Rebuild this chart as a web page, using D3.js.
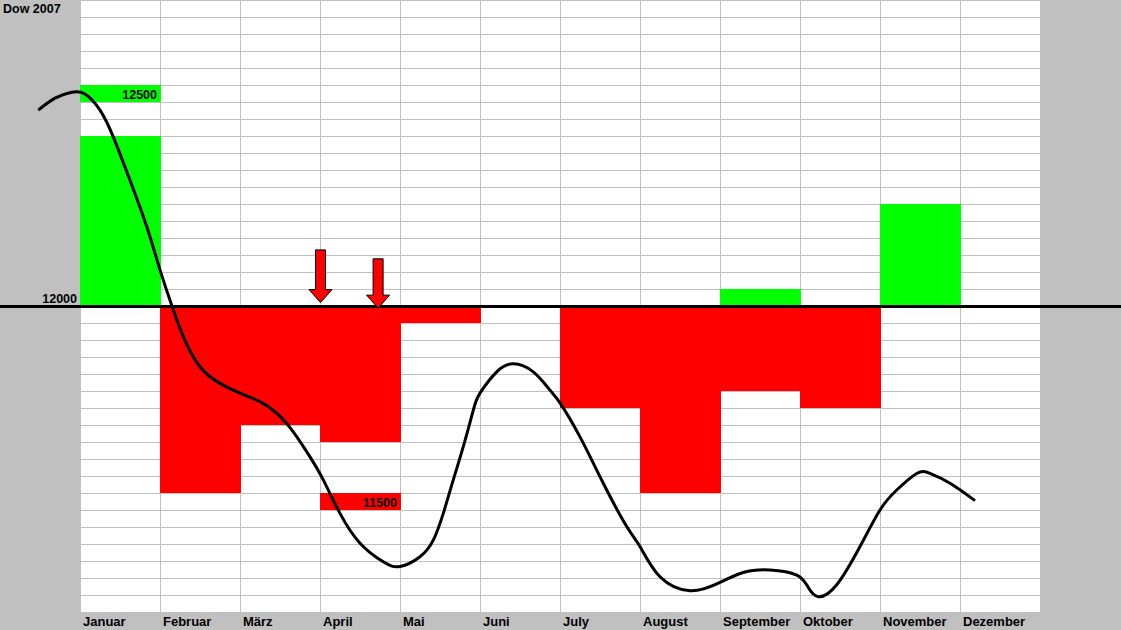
<!DOCTYPE html>
<html>
<head>
<meta charset="utf-8">
<script src="https://cdn.jsdelivr.net/npm/d3@7"></script>
<style>
  html, body { margin: 0; padding: 0; background: #c0c0c0; }
  svg { display: block; }
  text { font-family: Arial, "Liberation Sans", sans-serif; font-weight: bold; fill: #000; }
</style>
</head>
<body>
<script>
// ---------------- data ----------------
const title = "Dow 2007";
const months = ["Januar","Februar","März","April","Mai","Juni","July","August","September","Oktober","November","Dezember"];
const baseline = 12000;
// green part (above 12000) and red part (below 12000) of each month
const upValues   = [12400, null, null, null, null, null, null, null, 12040, null, 12240, null];
const downValues = [null, 11560, 11720, 11680, 11960, null, 11760, 11560, 11800, 11760, null, null];

// marker boxes with labels
const boxMonths = ["Januar", "April"];
const boxLow    = [12480, 11520];
const boxHigh   = [12520, 11560];
const boxText   = ["12500", "11500"];

// index curve: position in months (0 = start of Januar) and value
const curvePos = [-0.521,-0.3125,-0.104,0.0625,0.25,0.416,0.625,0.834,1.0,1.146,1.291,1.5,1.75,2.0,2.25,2.459,2.666,2.875,3.041,3.25,3.5,3.791,4.0,4.25,4.416,4.541,4.666,4.791,4.916,5.0,5.209,5.416,5.666,5.875,6.0,6.25,6.541,6.834,7.0,7.25,7.625,7.959,8.291,8.625,8.959,9.1,9.229,9.459,9.75,10.0,10.209,10.459,10.625,10.875,11.1875];
const curveVal = [12461,12489,12503,12499,12461,12398,12296,12187,12085,12002,11928,11857,11818,11795,11775,11748,11704,11645,11591,11512,11442,11398,11387,11410,11449,11512,11591,11669,11755,11795,11845,11864,11845,11802,11772,11692,11583,11481,11434,11363,11330,11346,11373,11379,11367,11339,11316,11344,11434,11520,11567,11606,11606,11583,11542];

// arrows: position in months, top of shaft value, tip value
const arrowPos = [3.0, 3.72];
const arrowTop = [12132, 12111];
const arrowTip = [12008, 11995];

// grid
const yMin = 11280, yMax = 12720, yStep = 40;

// ---------------- drawing ----------------
const W = 1121, H = 630;
const svg = d3.select("body").append("svg").attr("width", W).attr("height", H);

const x = d3.scaleLinear().domain([0, 12]).range([80, 1040]);
const y = d3.scaleLinear().domain([yMin, yMax]).range([612, 0]);

svg.append("rect").attr("x", 0).attr("y", 0).attr("width", W).attr("height", H).attr("fill", "#c0c0c0");
svg.append("rect").attr("x", x(0)).attr("y", y(yMax)).attr("width", x(12) - x(0)).attr("height", y(yMin) - y(yMax)).attr("fill", "#fff");

// gridlines
const grid = svg.append("g").attr("stroke", "#c0c0c0").attr("stroke-width", 1);
grid.selectAll("line.h").data(d3.range(yMin, yMax + 1, yStep)).join("line")
  .attr("x1", x(0)).attr("x2", x(12))
  .attr("y1", d => Math.round(y(d)) + 0.5).attr("y2", d => Math.round(y(d)) + 0.5);
grid.selectAll("line.v").data(d3.range(0, 13)).join("line")
  .attr("x1", d => x(d) + 0.5).attr("x2", d => x(d) + 0.5)
  .attr("y1", y(yMax)).attr("y2", y(yMin));

// bars
const bars = svg.append("g");
months.forEach((m, i) => {
  if (upValues[i] != null) {
    bars.append("rect").attr("x", x(i)).attr("width", x(i + 1) - x(i) + 1)
      .attr("y", y(upValues[i])).attr("height", y(baseline) - y(upValues[i]))
      .attr("fill", "#00ff00");
  }
  if (downValues[i] != null) {
    bars.append("rect").attr("x", x(i)).attr("width", x(i + 1) - x(i) + 1)
      .attr("y", y(baseline)).attr("height", y(downValues[i]) - y(baseline))
      .attr("fill", "#ff0000");
  }
});

// label boxes
boxMonths.forEach((m, k) => {
  const i = months.indexOf(m);
  const col = boxLow[k] >= baseline ? "#00ff00" : "#ff0000";
  bars.append("rect").attr("x", x(i)).attr("width", x(i + 1) - x(i) + 1)
    .attr("y", y(boxHigh[k])).attr("height", y(boxLow[k]) - y(boxHigh[k]))
    .attr("fill", col);
  svg.append("text").attr("x", x(i + 1) - 3).attr("y", y(boxLow[k]) - 3.5)
    .attr("text-anchor", "end").attr("font-size", 12.5).text(boxText[k]);
});

// baseline
svg.append("line").attr("x1", 0).attr("x2", W)
  .attr("y1", y(baseline) + 0.5).attr("y2", y(baseline) + 0.5)
  .attr("stroke", "#000").attr("stroke-width", 3);
svg.append("text").attr("x", 77).attr("y", y(baseline) - 3)
  .attr("text-anchor", "end").attr("font-size", 12.5).text(String(baseline));

// curve
const line = d3.line().x(d => x(d[0])).y(d => y(d[1])).curve(d3.curveNatural);
svg.append("path").datum(curvePos.map((p, i) => [p, curveVal[i]]))
  .attr("d", line).attr("fill", "none").attr("stroke", "#000").attr("stroke-width", 3)
  .attr("stroke-linejoin", "round");

// arrows
arrowPos.forEach((p, k) => {
  const cx = x(p) + 0.5, top = y(arrowTop[k]), tip = y(arrowTip[k]);
  const headH = 13, sw = 5, hw = 11.5;
  const hy = tip - headH;
  const pts = [[cx - sw, top], [cx + sw, top], [cx + sw, hy], [cx + hw, hy], [cx, tip], [cx - hw, hy], [cx - sw, hy]];
  svg.append("polygon").attr("points", pts.map(q => q.join(",")).join(" "))
    .attr("fill", "#ff0000").attr("stroke", "#000").attr("stroke-width", 1);
});

// title
svg.append("text").attr("x", 3).attr("y", 13).attr("font-size", 12.5).text(title);

// month labels
svg.append("g").selectAll("text").data(months).join("text")
  .attr("x", (d, i) => x(i) + 3).attr("y", 626)
  .attr("font-size", 13).text(d => d);
</script>
</body>
</html>
